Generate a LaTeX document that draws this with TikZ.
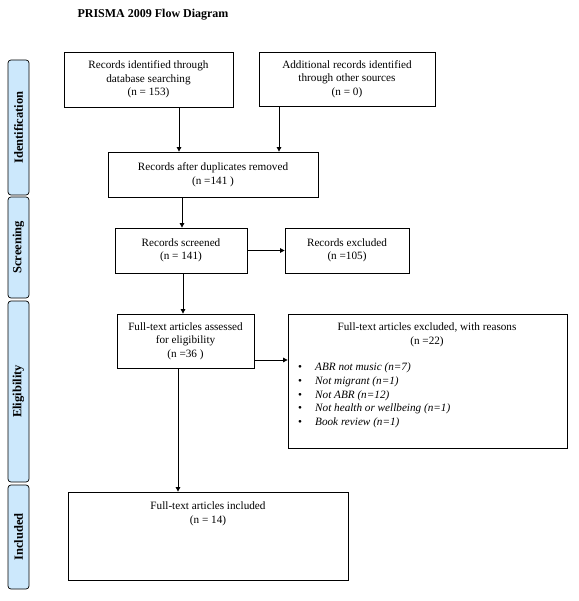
\documentclass[tikz,border=0pt]{standalone}
\usepackage{fontspec}
\setmainfont{Liberation Serif}
\usetikzlibrary{arrows.meta}
\definecolor{sidebl}{RGB}{204,232,252}
\begin{document}
\begin{tikzpicture}[x=1pt,y=-1pt,
  box/.style={draw, line width=0.8pt, align=center, inner sep=0pt, font=\fontsize{11.2}{13.6}\selectfont},
  txt/.style={align=center, inner sep=0pt, font=\fontsize{11.2}{13.6}\selectfont},
  side/.style={draw, fill=sidebl, rounded corners=3pt, line width=0.7pt, minimum width=21pt, inner sep=0pt},
  sidelbl/.style={rotate=90, font=\fontsize{12.5}{14}\selectfont\bfseries},
  arr/.style={line width=0.8pt, -{Triangle[width=4.5pt,length=4.5pt]}}]
\useasboundingbox (0,0) rectangle (578,601);
\node[font=\fontsize{12}{14}\selectfont\bfseries] (title) at (153,14.5) {PRISMA 2009 Flow Diagram};
% side bars
\node[side, minimum height=135pt] (sid) at (18.5,127.5) {};
\node[sidelbl] (sidl) at (sid.center) {Identification};
\node[side, minimum height=101pt] (sscr) at (18.5,247.5) {};
\node[sidelbl] (sscrl) at (sscr.center) {Screening};
\node[side, minimum height=181pt] (sel) at (18.5,391.5) {};
\node[sidelbl] (sell) at (sel.center) {Eligibility};
\node[side, minimum height=104pt] (sin) at (18.5,537) {};
\node[sidelbl] (sinl) at (sin.center) {Included};
% boxes
\node[box, minimum width=169pt, minimum height=55pt] (b1) at (148.5,79.5) {Records identified through\\database searching\\(n = 153)};
\node[box, minimum width=176pt, minimum height=54pt] (b2) at (347,79) {Additional records identified\\through other sources\\(n = 0)};
\node[box, minimum width=210pt, minimum height=45pt] (dup) at (213,174.5) {Records after duplicates removed\\(n =141 )};
\node[box, minimum width=132pt, minimum height=45pt] (scr) at (181,250.5) {Records screened\\(n = 141)};
\node[box, minimum width=124pt, minimum height=45pt] (exc) at (347,250.5) {Records excluded\\(n =105)};
\node[box, minimum width=137pt, minimum height=54pt] (elig) at (185.5,341) {Full-text articles assessed\\for eligibility\\(n =36 )};
\node[box, minimum width=279pt, minimum height=134pt] (rea) at (427.5,381) {};
\node[txt, anchor=north] (reat) at (427,322.5) {Full-text articles excluded, with reasons\\(n =22)};
\node[txt, anchor=north west, align=left] (real) at (298,363) {%
\makebox[17pt][l]{\textbullet}\textit{ABR not music (n=7)}\\
\makebox[17pt][l]{\textbullet}\textit{Not migrant (n=1)}\\
\makebox[17pt][l]{\textbullet}\textit{Not ABR (n=12)}\\
\makebox[17pt][l]{\textbullet}\textit{Not health or wellbeing (n=1)}\\
\makebox[17pt][l]{\textbullet}\textit{Book review (n=1)}};
\node[box, minimum width=280pt, minimum height=88pt] (inc) at (208,536) {};
\node[txt, anchor=north] (inct) at (208,501.5) {Full-text articles included\\(n = 14)};
% arrows
\draw[arr] (b1.south -| 179,0) -- (dup.north -| 179,0);
\draw[arr] (b2.south -| 279,0) -- (dup.north -| 279,0);
\draw[arr] (dup.south -| 182,0) -- (scr.north -| 182,0);
\draw[arr] (scr.east) -- (exc.west);
\draw[arr] (scr.south -| 183,0) -- (elig.north -| 183,0);
\draw[arr] (elig.east |- 0,360) -- (rea.west |- 0,360);
\draw[arr] (elig.south -| 178,0) -- (inc.north -| 178,0);
\end{tikzpicture}
\end{document}
